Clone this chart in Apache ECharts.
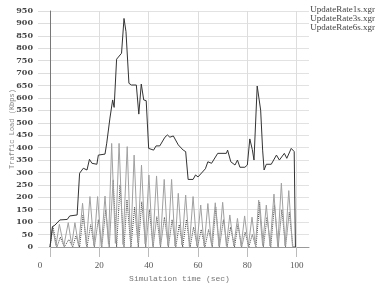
<!DOCTYPE html>
<html>
<head>
<meta charset="utf-8">
<script src="https://cdn.jsdelivr.net/npm/echarts@6/dist/echarts.min.js"></script>
<style>
  html, body { margin: 0; padding: 0; background: #fff; }
  #chart { width: 383px; height: 286px; }
</style>
</head>
<body>
<div id="chart"></div>
<script>
// series names
const seriesNames = ['UpdateRate1s.xgr', 'UpdateRate3s.xgr', 'UpdateRate6s.xgr'];
const xTicks = [0, 20, 40, 60, 80, 100];

// UpdateRate1s: time (sec) / load (Kbps)
const t1 = [0, 1, 2, 4, 7, 8, 11, 11.6, 12, 13.5, 15, 16, 17, 19, 19.6, 22.3, 23, 24.3, 25.4,
  26, 27, 29, 30, 30.8, 32, 33, 35, 36, 37, 38, 39, 40, 42, 43, 44.5, 46.6, 47.6, 48.6, 50,
  52, 54, 55, 56, 58, 59, 60, 63, 64, 65.5, 68, 71.5, 72, 73.3, 75, 76, 77, 79, 80, 81,
  82, 82.7, 84, 85.4, 86.2, 86.8, 87.7, 89.7, 91.8, 93, 95, 96, 97.8, 99, 99.5];
const v1 = [0, 82, 88, 109, 111, 125, 129, 131, 297, 317, 310, 353, 337, 333, 370, 374, 418, 519, 592,
  562, 756, 780, 920, 867, 659, 652, 652, 535, 656, 592, 589, 397, 390, 407, 407, 442, 451, 442, 447,
  411, 390, 384, 272, 272, 290, 282, 315, 343, 337, 377, 377, 390, 343, 330, 350, 321, 321, 330, 435,
  393, 350, 648, 551, 390, 310, 333, 333, 370, 350, 377, 357, 397, 384, 0];

// UpdateRate3s
const t3 = [0, 1, 2.4, 3.8, 5.6, 7.4, 8.8, 10.1, 11.6, 13.2, 14.7, 16.2, 17.8, 19.3, 20.8, 22.3, 23.7, 25, 26.5, 28,
  29.6, 31.3, 32.7, 34.1, 35.6, 37.1, 38.6, 40.1, 41.6, 43.2, 44.7, 46.3, 47.8, 49.3, 50.7, 52, 53.5, 55, 56.5, 58,
  59.5, 61.1, 62.5, 64, 65.5, 67, 68.5, 70, 71.5, 72.9, 74.5, 76, 77.5, 78.9, 80.4, 81.9, 83.3, 84.6, 86.2, 87.7,
  89.2, 90.8, 92.3, 93.8, 95.3, 96.8, 98.3, 99.3];
const v3 = [0, 80, 6, 91, 4, 98, 8, 98, 3, 176, 10, 203, 6, 203, 4, 205, 12, 417, 15, 417,
  10, 404, 8, 370, 20, 330, 12, 290, 5, 286, 10, 272, 6, 272, 4, 216, 8, 209, 3, 203,
  5, 169, 4, 175, 6, 178, 3, 180, 5, 129, 4, 115, 3, 125, 5, 120, 4, 189, 6, 169,
  4, 213, 3, 257, 5, 227, 3, 0];

// UpdateRate6s
const t6 = [0, 1.2, 2.8, 4.2, 5.8, 7.6, 9.2, 10.5, 12, 13.4, 15, 16.5, 18, 19.6, 21, 22.6, 24, 25.6, 27, 28.4,
  30, 31.2, 32.8, 34.3, 35.8, 37.2, 38.8, 40.3, 41.8, 43.3, 44.8, 46.4, 48, 49.5, 51, 52.4, 53.8, 55.3, 56.8, 58.2,
  59.8, 61.3, 62.8, 64.3, 65.8, 67.2, 68.7, 70.3, 71.8, 73.2, 74.8, 76.2, 77.7, 79.1, 80.6, 82, 83.5, 85, 86.5, 88,
  89.5, 91, 92.5, 94, 95.5, 97, 98.5, 99.2];
const v6 = [0, 82, 0, 40, 0, 30, 0, 45, 0, 130, 0, 90, 0, 110, 0, 150, 0, 270, 0, 250,
  0, 190, 0, 160, 0, 182, 0, 150, 0, 122, 0, 120, 0, 110, 0, 90, 0, 110, 0, 80,
  0, 70, 0, 70, 0, 160, 0, 110, 0, 80, 0, 90, 0, 60, 0, 50, 0, 180, 0, 120,
  0, 170, 0, 150, 0, 140, 0, 0];

const zip = (t, v) => t.map((x, i) => [x, v[i]]);

const chart = echarts.init(document.getElementById('chart'));
const option = {
  animation: false,
  backgroundColor: '#fff',
  grid: { left: 50, right: 74, top: 11, bottom: 39, outerBoundsMode: 'none', containLabel: false },
  legend: {
    orient: 'vertical',
    right: 3,
    top: 0,
    itemGap: 0,
    itemWidth: 0,
    itemHeight: 0,
    icon: 'rect',
    data: seriesNames,
    textStyle: { fontFamily: 'Liberation Serif', fontSize: 9, color: '#444', padding: [0, 0, 0, -5] }
  },
  xAxis: {
    type: 'value',
    min: 0,
    max: 105,
    interval: 20,
    name: 'Simulation time (sec)',
    nameLocation: 'middle',
    nameGap: 28,
    nameMoveOverlap: false,
    nameTextStyle: { fontFamily: 'Liberation Mono', fontSize: 8, color: '#777' },
    axisLine: { show: true, lineStyle: { color: '#999', width: 1 } },
    axisTick: { show: true, length: 10, customValues: xTicks, lineStyle: { color: '#bbb' } },
    splitLine: { show: true, lineStyle: { color: '#ddd' } },
    axisLabel: {
      customValues: xTicks,
      margin: 14,
      fontFamily: 'Liberation Serif',
      fontSize: 9,
      color: '#555',
      formatter: v => (v === 0 ? '{z|0}' : String(v)),
      rich: { z: { padding: [0, 20, 0, 0], fontFamily: 'Liberation Serif', fontSize: 9, color: '#555' } }
    }
  },
  yAxis: {
    type: 'value',
    min: 0,
    max: 950,
    interval: 50,
    name: 'Traffic Load (Kbps)',
    nameLocation: 'middle',
    nameGap: 34,
    nameMoveOverlap: false,
    nameTextStyle: { fontFamily: 'Liberation Mono', fontSize: 7, color: '#888' },
    axisLine: { show: true, lineStyle: { color: '#777', width: 1 } },
    axisTick: { show: true, length: 12, lineStyle: { color: '#ddd' } },
    splitLine: { show: true, lineStyle: { color: '#e2e2e2' } },
    axisLabel: { margin: 17, fontFamily: 'DejaVu Serif', fontSize: 8, fontWeight: 'bold', color: '#444' }
  },
  series: [
    {
      name: seriesNames[2], type: 'line', data: zip(t6, v6), symbol: 'none', z: 2,
      lineStyle: { color: '#444', width: 1, type: 'dotted' }, itemStyle: { color: '#444' }
    },
    {
      name: seriesNames[1], type: 'line', data: zip(t3, v3), symbol: 'none', z: 3,
      lineStyle: { color: '#a0a0a0', width: 1 }, itemStyle: { color: '#a0a0a0' }
    },
    {
      name: seriesNames[0], type: 'line', data: zip(t1, v1), symbol: 'none', z: 4,
      lineStyle: { color: '#333', width: 1 }, itemStyle: { color: '#333' }
    }
  ]
};
chart.setOption(option);
</script>
</body>
</html>
